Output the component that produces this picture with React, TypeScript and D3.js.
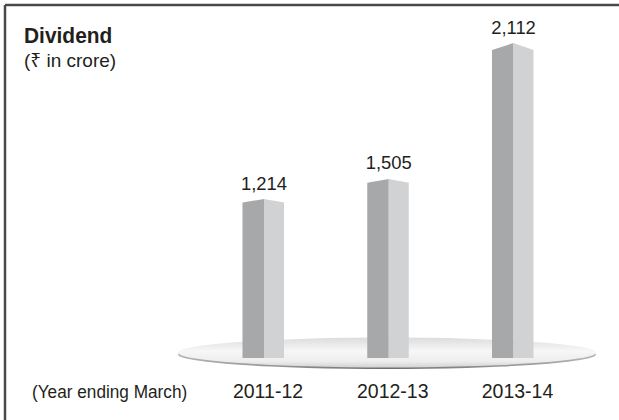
import React from "react";
import * as d3 from "d3";

const categories = ["2011-12", "2012-13", "2013-14"];
const dividends = [1214, 1505, 2112];
const valueLabels = ["1,214", "1,505", "2,112"];
const title = "Dividend";
const subtitle = "(₹ in crore)";
const xAxisNote = "(Year ending March)";

const W = 619;
const H = 420;
const BASE = 358;
const FONT = "'Liberation Sans', Arial, 'Noto Sans', sans-serif";
const SX = 0.93;

function T(props: {
  x: number;
  y: number;
  size: number;
  anchor?: string;
  bold?: boolean;
  sx?: number;
  children: React.ReactNode;
}) {
  const sx = props.sx ?? SX;
  return (
    <text
      transform={`translate(${props.x},${props.y}) scale(${sx},1)`}
      textAnchor={props.anchor ?? "start"}
      fontFamily={FONT}
      fontWeight={props.bold ? "bold" : "normal"}
      fontSize={props.size}
      fill="#231f20"
    >
      {props.children}
    </text>
  );
}

export default function App() {
  const x = d3.scalePoint<string>().domain(categories).range([264, 513.5]);
  // pictorial (non-linear) height scale as in the original infographic
  const y = d3.scalePow().exponent(5).domain([0, 2112]).range([209.5, 43]);
  const darkW = 21.5;
  const lightW = 20;

  return (
    <svg
      width={W}
      height={H}
      style={{ position: "absolute", left: 0, top: 0, background: "#fff" }}
    >
      <defs>
        <linearGradient id="plate" x1="0" y1="0" x2="0" y2="1">
          <stop offset="0" stopColor="#dcdcdd" />
          <stop offset="0.45" stopColor="#f7f7f7" />
          <stop offset="0.8" stopColor="#ededed" />
          <stop offset="1" stopColor="#d2d2d3" />
        </linearGradient>
        <linearGradient id="plateEdge" x1="0" y1="0" x2="1" y2="0">
          <stop offset="0" stopColor="#b5b5b6" />
          <stop offset="0.5" stopColor="#6f6f70" />
          <stop offset="1" stopColor="#b5b5b6" />
        </linearGradient>
      </defs>
      {/* frame: top & left */}
      <line x1={5} y1={5} x2={W} y2={5} stroke="#4a4a4a" strokeWidth={2.5} />
      <line x1={5} y1={5} x2={5} y2={H} stroke="#4a4a4a" strokeWidth={2.5} />

      <T x={24} y={43} size={22.5} bold>
        {title}
      </T>
      <T x={24} y={67} size={19} sx={1}>
        {subtitle}
      </T>

      {/* platform */}
      <ellipse cx={387} cy={354.5} rx={209} ry={14.5} fill="url(#plateEdge)" />
      <ellipse cx={387} cy={352.5} rx={209} ry={15} fill="url(#plate)" />

      {dividends.map((v, i) => {
        const cx = x(categories[i]) as number;
        const top = y(v);
        const drop = (BASE - top) * 0.022;
        const l = cx - darkW;
        const r = cx + lightW;
        const darkPts = [
          [l, BASE],
          [l, top + drop],
          [cx, top],
          [cx, BASE],
        ];
        const lightPts = [
          [cx, BASE],
          [cx, top],
          [r, top + drop],
          [r, BASE],
        ];
        return (
          <g key={categories[i]}>
            <polygon points={darkPts.map((p) => p.join(",")).join(" ")} fill="#a7a8aa" />
            <polygon points={lightPts.map((p) => p.join(",")).join(" ")} fill="#d1d2d4" />
            <T x={cx} y={top - 9.5} size={19} anchor="middle" sx={0.97}>
              {valueLabels[i]}
            </T>
            <T x={cx + 4} y={398} size={21} anchor="middle">
              {categories[i]}
            </T>
          </g>
        );
      })}

      <T x={32} y={398} size={18.5}>
        {xAxisNote}
      </T>
    </svg>
  );
}
